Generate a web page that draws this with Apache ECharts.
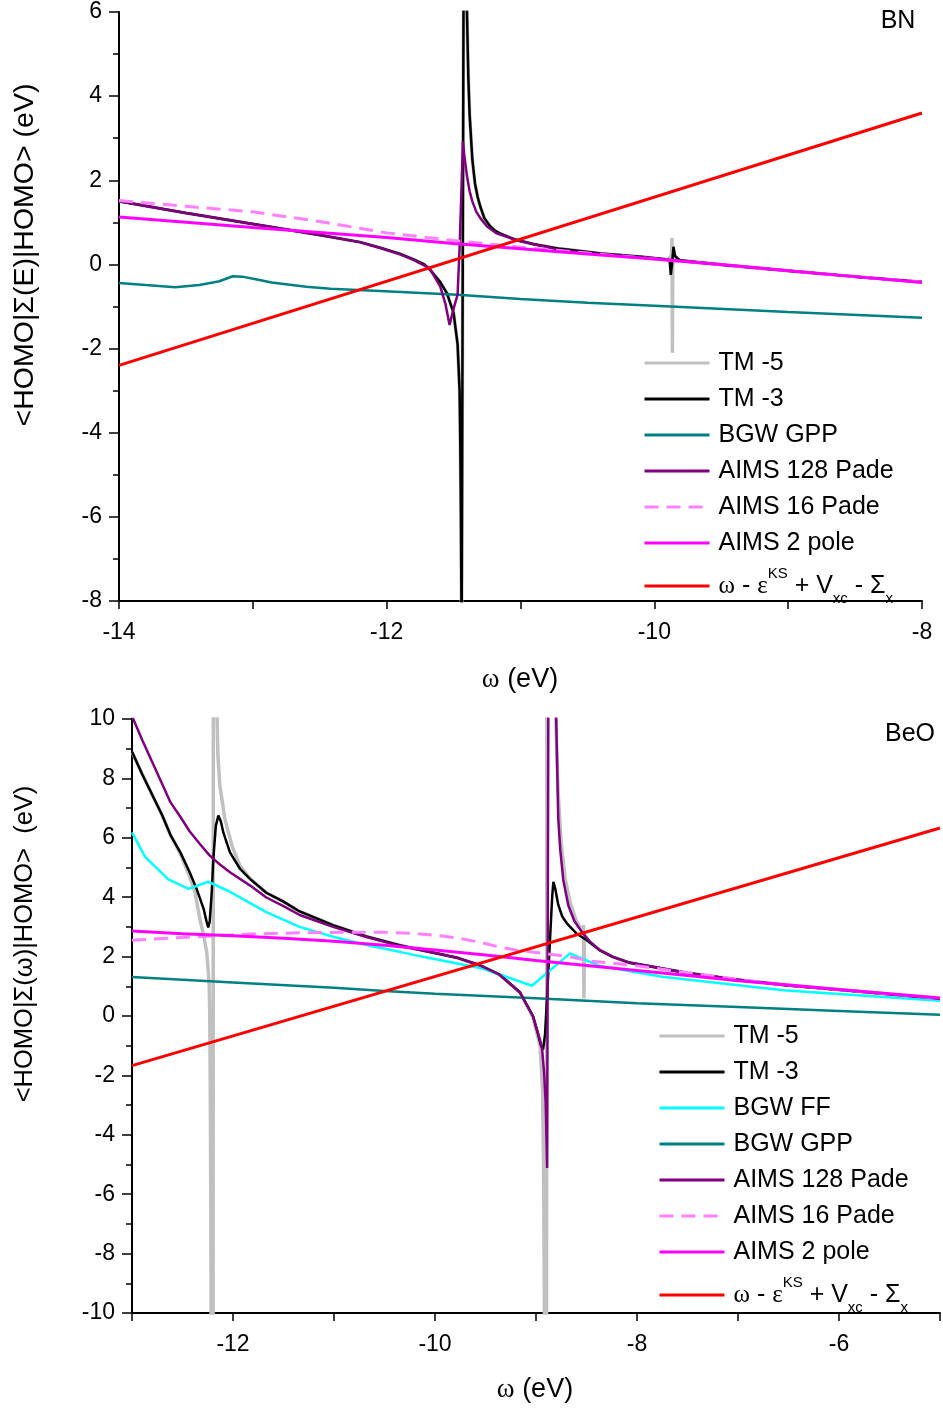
<!DOCTYPE html>
<html>
<head>
<meta charset="utf-8">
<script src="https://cdn.jsdelivr.net/npm/echarts@6/dist/echarts.min.js"></script>
<style>
  html, body { margin: 0; padding: 0; background: #fff; }
  #chart { width: 943px; height: 1410px; }
</style>
</head>
<body>
<div id="chart"></div>
<script>
// ---- BN panel: omega (eV) vs <HOMO|Sigma(E)|HOMO> (eV) ----
const bnTm5 = [[-14, 1.50], [-13.5, 1.22], [-13, 0.96], [-12.5, 0.70], [-12.2, 0.53], [-12.05, 0.40], [-11.9, 0.25], [-11.8, 0.12], [-11.72, 0.0], [-11.68, -0.11], [-11.6, -0.42], [-11.55, -0.68], [-11.5, -1.15], [-11.47, -1.9], [-11.455, -3.0], [-11.45, -4.2], [-11.445, -6], [-11.44, -9], [-11.425, 7], [-11.40, 6.0], [-11.39, 4.47], [-11.38, 3.55], [-11.36, 2.5], [-11.34, 1.92], [-11.32, 1.6], [-11.30, 1.37], [-11.27, 1.1], [-11.23, 0.92], [-11.19, 0.8], [-11.15, 0.73], [-11.05, 0.60], [-10.9, 0.48], [-10.7, 0.37], [-10.4, 0.26], [-10.1, 0.18], [-9.9, 0.12], [-9.872, 0.2], [-9.868, 0.63], [-9.865, -2.1], [-9.862, 0.2], [-9.84, 0.14], [-9.81, 0.10], [-9.5, -0.01], [-9, -0.15], [-8.5, -0.29], [-8, -0.42]]
const bnTm3 = [[-14, 1.50], [-13.5, 1.22], [-13, 0.96], [-12.5, 0.70], [-12.2, 0.53], [-12.05, 0.40], [-11.9, 0.25], [-11.8, 0.12], [-11.72, 0.0], [-11.68, -0.11], [-11.6, -0.42], [-11.55, -0.68], [-11.5, -1.15], [-11.47, -1.9], [-11.455, -3.0], [-11.45, -4.2], [-11.445, -6], [-11.44, -9], [-11.425, 7], [-11.40, 6.0], [-11.39, 4.47], [-11.38, 3.55], [-11.36, 2.5], [-11.34, 1.92], [-11.32, 1.6], [-11.30, 1.37], [-11.27, 1.1], [-11.23, 0.92], [-11.19, 0.8], [-11.15, 0.73], [-11.05, 0.60], [-10.9, 0.48], [-10.7, 0.37], [-10.4, 0.26], [-10.1, 0.18], [-9.9, 0.12], [-9.885, 0.07], [-9.877, -0.25], [-9.868, 0.0], [-9.857, 0.42], [-9.845, 0.2], [-9.81, 0.10], [-9.5, -0.01], [-9, -0.15], [-8.5, -0.29], [-8, -0.42]]
const bnGpp = [[-14, -0.44], [-13.8, -0.49], [-13.58, -0.54], [-13.4, -0.49], [-13.25, -0.40], [-13.15, -0.28], [-13.08, -0.29], [-12.95, -0.37], [-12.86, -0.43], [-12.6, -0.53], [-12.42, -0.58], [-12.05, -0.63], [-11.47, -0.72], [-11, -0.82], [-10.5, -0.91], [-10, -0.98], [-9, -1.13], [-8, -1.27]]
const bnPade128 = [[-14, 1.50], [-13.5, 1.22], [-13, 0.96], [-12.5, 0.70], [-12.2, 0.53], [-12.05, 0.39], [-11.9, 0.24], [-11.8, 0.11], [-11.68, -0.09], [-11.6, -0.52], [-11.56, -0.95], [-11.53, -1.44], [-11.5, -1.05], [-11.47, -0.72], [-11.455, 0.4], [-11.43, 2.92], [-11.42, 2.6], [-11.40, 2.1], [-11.38, 1.74], [-11.36, 1.5], [-11.33, 1.25], [-11.30, 1.10], [-11.25, 0.9], [-11.18, 0.74], [-11.0, 0.55], [-10.7, 0.34], [-10.4, 0.24], [-10, 0.14], [-9.5, -0.01], [-9, -0.15], [-8.5, -0.29], [-8, -0.42]]
const bnPade16 = [[-14, 1.52], [-13.5, 1.38], [-13, 1.25], [-12.5, 1.02], [-12, 0.75], [-11.5, 0.57], [-11, 0.41], [-10.5, 0.27], [-10, 0.13], [-9.5, -0.01], [-9, -0.15], [-8.5, -0.29], [-8, -0.42]]
const bnPole2 = [[-14, 1.13], [-13, 0.88], [-12, 0.64], [-11.5, 0.50], [-11, 0.37], [-10.5, 0.25], [-10, 0.13], [-9.5, 0.0], [-9, -0.15], [-8.5, -0.29], [-8, -0.43]]
const bnShift = [[-14, -2.4], [-8, 3.6]]

// ---- BeO panel ----
const beoTm5 = [[-13, 8.9], [-12.9, 8.15], [-12.8, 7.45], [-12.7, 6.75], [-12.62, 6.1], [-12.52, 5.45], [-12.43, 4.7], [-12.376, 4.16], [-12.33, 3.3], [-12.29, 2.7], [-12.26, 2.14], [-12.245, 1.5], [-12.235, 1.02], [-12.23, -0.03], [-12.225, -2.5], [-12.22, -6], [-12.215, -12], [-12.2, -40], [-12.19, 60], [-12.17, 12], [-12.15, 8.8], [-12.13, 7.75], [-12.08, 6.63], [-12.01, 5.73], [-11.93, 5.05], [-11.83, 4.63], [-11.67, 4.15], [-11.5, 3.85], [-11.34, 3.52], [-11.01, 3.06], [-10.68, 2.68], [-10.35, 2.38], [-10.0, 2.12], [-9.77, 1.95], [-9.55, 1.70], [-9.36, 1.39], [-9.16, 0.80], [-9.03, -0.05], [-8.96, -1.0], [-8.935, -2.5], [-8.925, -5], [-8.918, -9], [-8.912, -14], [-8.9, -40], [-8.885, 60], [-8.86, 20], [-8.8, 9.5], [-8.78, 7.5], [-8.75, 5.8], [-8.71, 4.6], [-8.66, 3.8], [-8.6, 3.2], [-8.55, 2.9], [-8.535, 2.8], [-8.53, 3.06], [-8.525, 0.59], [-8.52, 2.65], [-8.5, 2.58], [-8.37, 2.22], [-8.24, 1.99], [-8.07, 1.79], [-7.5, 1.45], [-7, 1.22], [-6.5, 1.03], [-6, 0.88], [-5.5, 0.73], [-5, 0.58]]
const beoTm3 = [[-13, 8.9], [-12.9, 8.15], [-12.8, 7.45], [-12.7, 6.75], [-12.62, 6.1], [-12.52, 5.5], [-12.43, 4.85], [-12.36, 4.28], [-12.29, 3.6], [-12.26, 3.15], [-12.245, 2.98], [-12.23, 3.2], [-12.21, 4.2], [-12.195, 5.29], [-12.17, 6.4], [-12.145, 6.75], [-12.12, 6.55], [-12.096, 6.18], [-12.03, 5.51], [-11.93, 4.95], [-11.83, 4.61], [-11.67, 4.15], [-11.5, 3.85], [-11.34, 3.52], [-11.01, 3.06], [-10.68, 2.68], [-10.35, 2.38], [-10.0, 2.12], [-9.77, 1.95], [-9.55, 1.70], [-9.36, 1.39], [-9.16, 0.80], [-9.03, 0.0], [-8.98, -0.6], [-8.95, -1.0], [-8.93, -1.13], [-8.91, -0.6], [-8.885, 1.0], [-8.86, 2.66], [-8.84, 4.0], [-8.828, 4.52], [-8.81, 4.3], [-8.78, 3.75], [-8.74, 3.35], [-8.69, 3.1], [-8.6, 2.78], [-8.5, 2.56], [-8.37, 2.22], [-8.24, 1.99], [-8.07, 1.79], [-7.5, 1.45], [-7, 1.22], [-6.5, 1.03], [-6, 0.88], [-5.5, 0.73], [-5, 0.58]]
const beoFF = [[-13, 6.18], [-12.87, 5.36], [-12.64, 4.6], [-12.44, 4.28], [-12.245, 4.52], [-12.04, 4.2], [-11.83, 3.8], [-11.67, 3.5], [-11.34, 3.0], [-11.0, 2.66], [-10.68, 2.39], [-10.35, 2.16], [-10.13, 2.0], [-9.53, 1.6], [-9.04, 1.02], [-8.663, 2.11], [-8.366, 1.68], [-7.75, 1.32], [-6.55, 0.87], [-5, 0.51]]
const beoGpp = [[-13, 1.31], [-12, 1.13], [-11, 0.95], [-10.5, 0.84], [-10, 0.75], [-9, 0.6], [-8, 0.43], [-7, 0.30], [-6, 0.17], [-5, 0.04]]
const beoPade128 = [[-13, 10.1], [-12.9, 9.3], [-12.8, 8.55], [-12.7, 7.8], [-12.62, 7.2], [-12.52, 6.7], [-12.43, 6.22], [-12.33, 5.8], [-12.23, 5.40], [-12.13, 5.1], [-12.03, 4.84], [-11.83, 4.39], [-11.67, 3.99], [-11.5, 3.7], [-11.34, 3.40], [-11.01, 3.0], [-10.68, 2.66], [-10.35, 2.36], [-10.0, 2.12], [-9.77, 1.95], [-9.55, 1.70], [-9.36, 1.39], [-9.16, 0.80], [-9.03, 0.0], [-8.96, -0.81], [-8.94, -1.1], [-8.92, -1.9], [-8.905, -2.9], [-8.895, -4.3], [-8.89, -5.12], [-8.875, 14], [-8.81, 14], [-8.80, 10], [-8.78, 6.67], [-8.76, 5.6], [-8.73, 4.58], [-8.68, 3.72], [-8.62, 3.2], [-8.55, 2.85], [-8.47, 2.52], [-8.37, 2.22], [-8.24, 1.99], [-8.07, 1.79], [-7.5, 1.45], [-7, 1.22], [-6.5, 1.03], [-6, 0.88], [-5.5, 0.73], [-5, 0.58]]
const beoPade16 = [[-13, 2.55], [-12.6, 2.63], [-12.3, 2.68], [-11.83, 2.76], [-11.34, 2.80], [-10.8, 2.82], [-10.5, 2.82], [-10.2, 2.78], [-10.0, 2.72], [-9.77, 2.62], [-9.55, 2.48], [-9.36, 2.32], [-9.16, 2.2], [-8.9, 2.1], [-8.66, 1.99], [-8.47, 1.85], [-8.07, 1.72], [-7.5, 1.46], [-7, 1.23], [-6.5, 1.04], [-6, 0.89], [-5.5, 0.74], [-5, 0.6]]
const beoPole2 = [[-13, 2.86], [-12.5, 2.77], [-12, 2.70], [-11.5, 2.62], [-11, 2.52], [-10.5, 2.38], [-10, 2.22], [-9.5, 2.05], [-9, 1.87], [-8.5, 1.70], [-8, 1.53], [-7.5, 1.36], [-7, 1.19], [-6.5, 1.04], [-6, 0.89], [-5.5, 0.75], [-5, 0.61]]
const beoShift = [[-13, -1.67], [-5, 6.33]]

const SHIFT = 'ω - εKS + Vxc - Σx'
const bnNames = ['TM -5', 'TM -3', 'BGW GPP', 'AIMS 128 Pade', 'AIMS 16 Pade', 'AIMS 2 pole', SHIFT]
const beoNames = ['TM -5', 'TM -3', 'BGW FF', 'BGW GPP', 'AIMS 128 Pade', 'AIMS 16 Pade', 'AIMS 2 pole', SHIFT]

const FONT = "'Liberation Sans', Arial, sans-serif"
const SERIF = "'Liberation Serif', 'DejaVu Serif', serif"

const styles = {
  'TM -5': { color: '#C0C0C0', width: 3.5 },
  'TM -3': { color: '#000000', width: 2.5 },
  'BGW FF': { color: '#00FFFF', width: 2.5 },
  'BGW GPP': { color: '#008080', width: 2.5 },
  'AIMS 128 Pade': { color: '#800080', width: 2.5 },
  'AIMS 16 Pade': { color: '#FF80FF', width: 3, type: [14, 8] },
  'AIMS 2 pole': { color: '#FF00FF', width: 3 },
  [SHIFT]: { color: '#FF0000', width: 3 }
}

function line (name, data, idx) {
  const s = styles[name]
  return {
    type: 'line',
    name: name,
    data: data,
    xAxisIndex: idx,
    yAxisIndex: idx,
    symbol: 'none',
    clip: true,
    lineStyle: { color: s.color, width: s.width, type: s.type || 'solid' },
    itemStyle: { color: s.color },
    emphasis: { disabled: true }
  }
}

function xAxisOf (idx, min, max) {
  return {
    type: 'value',
    gridIndex: idx,
    min: min,
    max: max,
    interval: 1,
    axisLine: { show: true, onZero: false, lineStyle: { color: '#000', width: 2 } },
    axisTick: { show: true, length: 8, lineStyle: { color: '#000', width: 1.5 } },
    axisLabel: {
      margin: 20,
      fontSize: 23,
      color: '#000',
      fontFamily: FONT,
      formatter: (v) => (v % 2 === 0 ? String(v) : '')
    },
    splitLine: { show: false }
  }
}

function yAxisOf (idx, min, max) {
  return {
    type: 'value',
    gridIndex: idx,
    min: min,
    max: max,
    interval: 2,
    axisLine: { show: true, onZero: false, lineStyle: { color: '#000', width: 2 } },
    axisTick: { show: true, length: 10, lineStyle: { color: '#000', width: 1.5 } },
    minorTick: { show: true, splitNumber: 2, length: 6, lineStyle: { color: '#000', width: 1.5 } },
    axisLabel: { margin: 17, fontSize: 23, color: '#000', fontFamily: FONT },
    splitLine: { show: false },
    minorSplitLine: { show: false }
  }
}

function legendOf (names, left, top) {
  return {
    data: names,
    orient: 'vertical',
    left: left,
    top: top,
    padding: 0,
    itemWidth: 65,
    itemHeight: 3,
    itemGap: 10,
    itemStyle: { opacity: 0 },
    lineStyle: { width: 3 },
    formatter: (name) => name === SHIFT
      ? '{g|ω}{s| - }{g|ε}{sup|KS}{s| + V}{sub|xc}{s| - Σ}{sub|x}'
      : name,
    textStyle: {
      fontSize: 25,
      lineHeight: 26,
      color: '#000',
      fontFamily: FONT,
      padding: [0, 0, 0, 4],
      rich: {
        s: { fontSize: 25, lineHeight: 40, fontFamily: FONT, color: '#000' },
        g: { fontSize: 25, lineHeight: 40, fontFamily: SERIF, color: '#000' },
        sup: { fontSize: 15, lineHeight: 15, verticalAlign: 'top', fontFamily: FONT, color: '#000' },
        sub: { fontSize: 15, lineHeight: 15, verticalAlign: 'bottom', fontFamily: FONT, color: '#000' }
      }
    }
  }
}

function textEl (x, y, text, size, rotate, rich) {
  return {
    type: 'text',
    x: x,
    y: y,
    rotation: rotate ? Math.PI / 2 : 0,
    style: {
      text: text,
      fontSize: size,
      fontFamily: FONT,
      fill: '#000',
      align: 'center',
      verticalAlign: 'middle',
      rich: rich
    }
  }
}

const omegaRich = {
  g: { fontSize: 27, fontFamily: SERIF, fill: '#000' },
  s: { fontSize: 27, fontFamily: FONT, fill: '#000' }
}

const chart = echarts.init(document.getElementById('chart'))
chart.setOption({
  animation: false,
  backgroundColor: '#fff',
  grid: [
    { left: 119, top: 12, width: 803, height: 589 },
    { left: 132, top: 719, width: 808, height: 594 }
  ],
  xAxis: [xAxisOf(0, -14, -8), xAxisOf(1, -13, -5)],
  yAxis: [yAxisOf(0, -8, 6), yAxisOf(1, -10, 10)],
  legend: [legendOf(bnNames, 643, 350), legendOf(beoNames, 658, 1023)],
  graphic: [
    textEl(898, 21, 'BN', 25, false),
    textEl(910, 734, 'BeO', 25, false),
    textEl(25, 255, '<HOMO|Σ(E)|HOMO> (eV)', 28.5, true),
    textEl(25, 944, '<HOMO|Σ(ω)|HOMO>  (eV)', 25.5, true),
    textEl(520, 680, '{g|ω}{s| (eV)}', 27, false, omegaRich),
    textEl(535, 1390, '{g|ω}{s| (eV)}', 27, false, omegaRich)
  ],
  series: [
    line('TM -5', bnTm5, 0),
    line('TM -3', bnTm3, 0),
    line('BGW GPP', bnGpp, 0),
    line('AIMS 128 Pade', bnPade128, 0),
    line('AIMS 16 Pade', bnPade16, 0),
    line('AIMS 2 pole', bnPole2, 0),
    line(SHIFT, bnShift, 0),
    line('TM -5', beoTm5, 1),
    line('TM -3', beoTm3, 1),
    line('BGW FF', beoFF, 1),
    line('BGW GPP', beoGpp, 1),
    line('AIMS 128 Pade', beoPade128, 1),
    line('AIMS 16 Pade', beoPade16, 1),
    line('AIMS 2 pole', beoPole2, 1),
    line(SHIFT, beoShift, 1)
  ]
})
</script>
</body>
</html>
